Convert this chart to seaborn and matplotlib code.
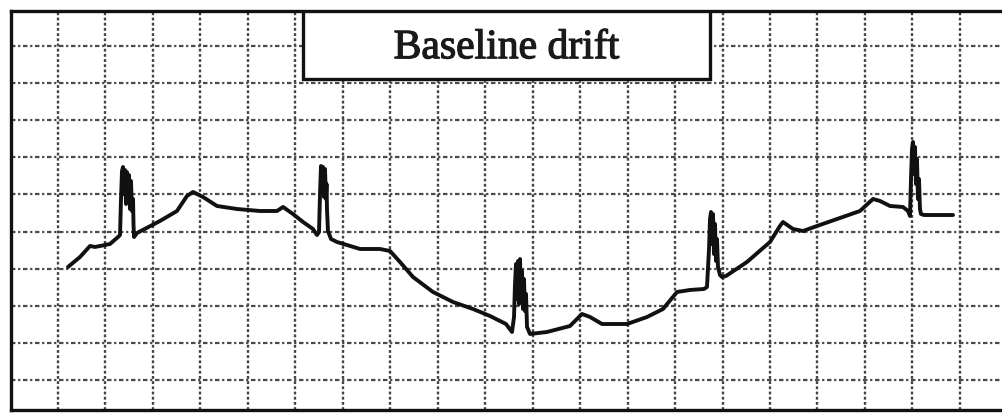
import numpy as np
import pandas as pd
import matplotlib
matplotlib.use('Agg')
import matplotlib.pyplot as plt
import matplotlib.patheffects as pe
from matplotlib.patches import Rectangle
import seaborn as sns

sns.set_theme(style='white')
plt.rcParams['font.family'] = ['Liberation Serif', 'DejaVu Serif']

# ── ECG trace (x: big boxes of time, y: big boxes of amplitude)
time_box = [1.211, 1.464, 1.675, 1.780, 2.096, 2.265,
            # beat 1
            2.307, 2.328, 2.349, 2.370, 2.391, 2.412, 2.433, 2.454, 2.475, 2.496, 2.517,
            2.538, 2.560, 2.581, 2.591, 2.602, 2.665,
            3.149, 3.507, 3.718, 3.845, 4.055, 4.350, 4.771, 5.256, 5.614, 5.741, 5.951,
            6.162, 6.372, 6.457,
            # beat 2
            6.499, 6.520, 6.541, 6.562, 6.583, 6.604, 6.625, 6.646, 6.657, 6.667, 6.688,
            6.752, 6.878,
            7.152, 7.363, 7.784, 7.995, 8.205, 8.479, 8.900, 9.322, 9.743, 10.101, 10.438, 10.565,
            # beat 3
            10.607, 10.628, 10.649, 10.670, 10.691, 10.712, 10.733, 10.754, 10.775, 10.796,
            10.817, 10.838, 10.860, 10.881, 10.944,
            11.302, 11.786, 12.039, 12.208, 12.461, 12.987, 13.409, 13.746, 13.956, 14.041,
            14.314, 14.609,
            # beat 4
            14.672, 14.715, 14.736, 14.757, 14.778, 14.799, 14.820, 14.841, 14.862, 14.883,
            14.904, 14.946, 14.988, 15.073,
            15.515, 16.000, 16.210, 16.273, 16.484, 16.695, 16.990, 17.411, 17.895, 18.169,
            18.317, 18.528, 18.801, 18.907,
            # beat 5
            18.949, 18.970, 18.991, 19.012, 19.033, 19.054, 19.075, 19.096, 19.117, 19.138,
            19.159, 19.180, 19.244, 19.855]
amp_box = [4.046, 4.315, 4.612, 4.585, 4.666, 4.854,
           4.908, 5.879, 6.633, 6.741, 6.013, 6.660, 5.744, 6.606, 5.879, 6.525, 5.609,
           6.364, 5.555, 5.879, 5.205, 4.854, 4.962,
           5.286, 5.555, 5.960, 6.067, 5.933, 5.690, 5.609, 5.555, 5.555, 5.663, 5.474,
           5.259, 5.070, 4.908,
           4.989, 6.013, 6.768, 6.148, 6.741, 5.933, 6.687, 5.879, 6.283, 5.609, 5.016,
           4.800, 4.720,
           4.612, 4.531, 4.531, 4.477, 4.181, 3.776, 3.372, 3.102, 2.914, 2.725, 2.509, 2.294,
           2.698, 3.588, 4.127, 3.183, 4.208, 3.048, 4.261, 3.183, 3.938, 2.914,
           3.722, 2.860, 3.318, 2.429, 2.240,
           2.294, 2.455, 2.779, 2.698, 2.509, 2.509, 2.698, 2.914, 3.237, 3.372,
           3.426, 3.453,
           3.507, 4.531, 5.340, 5.528, 4.666, 5.474, 4.396, 5.205, 4.208, 4.800,
           4.046, 3.830, 3.776, 3.803,
           4.181, 4.720, 5.151, 5.259, 5.070, 5.016, 5.151, 5.340, 5.555, 5.879,
           5.825, 5.690, 5.663, 5.555,
           5.420, 6.418, 7.226, 7.415, 6.553, 7.280, 6.283, 6.957, 5.879, 6.418,
           5.609, 5.474, 5.447, 5.447]

title_text = 'Baseline drift'

df = pd.DataFrame({'t': time_box, 'v': amp_box})

fig = plt.figure(figsize=(10.02, 4.14), dpi=100)
ax = fig.add_axes([10.5 / 1002, 3 / 414, (1002 - 10.5) / 1002, 399 / 414])

# paper grid
for k in range(1, 21):
    ax.axvline(k, color='#444444', lw=1.7, ls=(0, (1.2, 1.0)), zorder=1)
for k in range(1, 11):
    ax.axhline(k, color='#4a4a4a', lw=1.6, ls=(0, (2.0, 1.2, 1.0, 1.2)), zorder=1)

sns.lineplot(data=df, x='t', y='v', sort=False, estimator=None,
             color='#111111', lw=2.8, ax=ax, zorder=3)

ax.set_xlim(0, 20.887)
ax.set_ylim(0.191, 10.946)
ax.set_xticks([])
ax.set_yticks([])
ax.set_xlabel('')
ax.set_ylabel('')

for side in ['left', 'top', 'bottom']:
    ax.spines[side].set_visible(True)
    ax.spines[side].set_color('#111111')
    ax.spines[side].set_linewidth(2.4)
ax.spines['right'].set_visible(False)

# title box
box = Rectangle((6.16, 9.113), 14.735 - 6.16, 10.946 - 9.113,
                facecolor='white', edgecolor='#111111', lw=2.4, zorder=4)
ax.add_patch(box)
ax.text((6.16 + 14.735) / 2, 9.95, title_text, ha='center', va='center',
        fontsize=30, color='#1a1a1a', zorder=5,
        path_effects=[pe.withStroke(linewidth=0.9, foreground='#1a1a1a')])

fig.savefig('out.png', dpi=100)
plt.close(fig)
